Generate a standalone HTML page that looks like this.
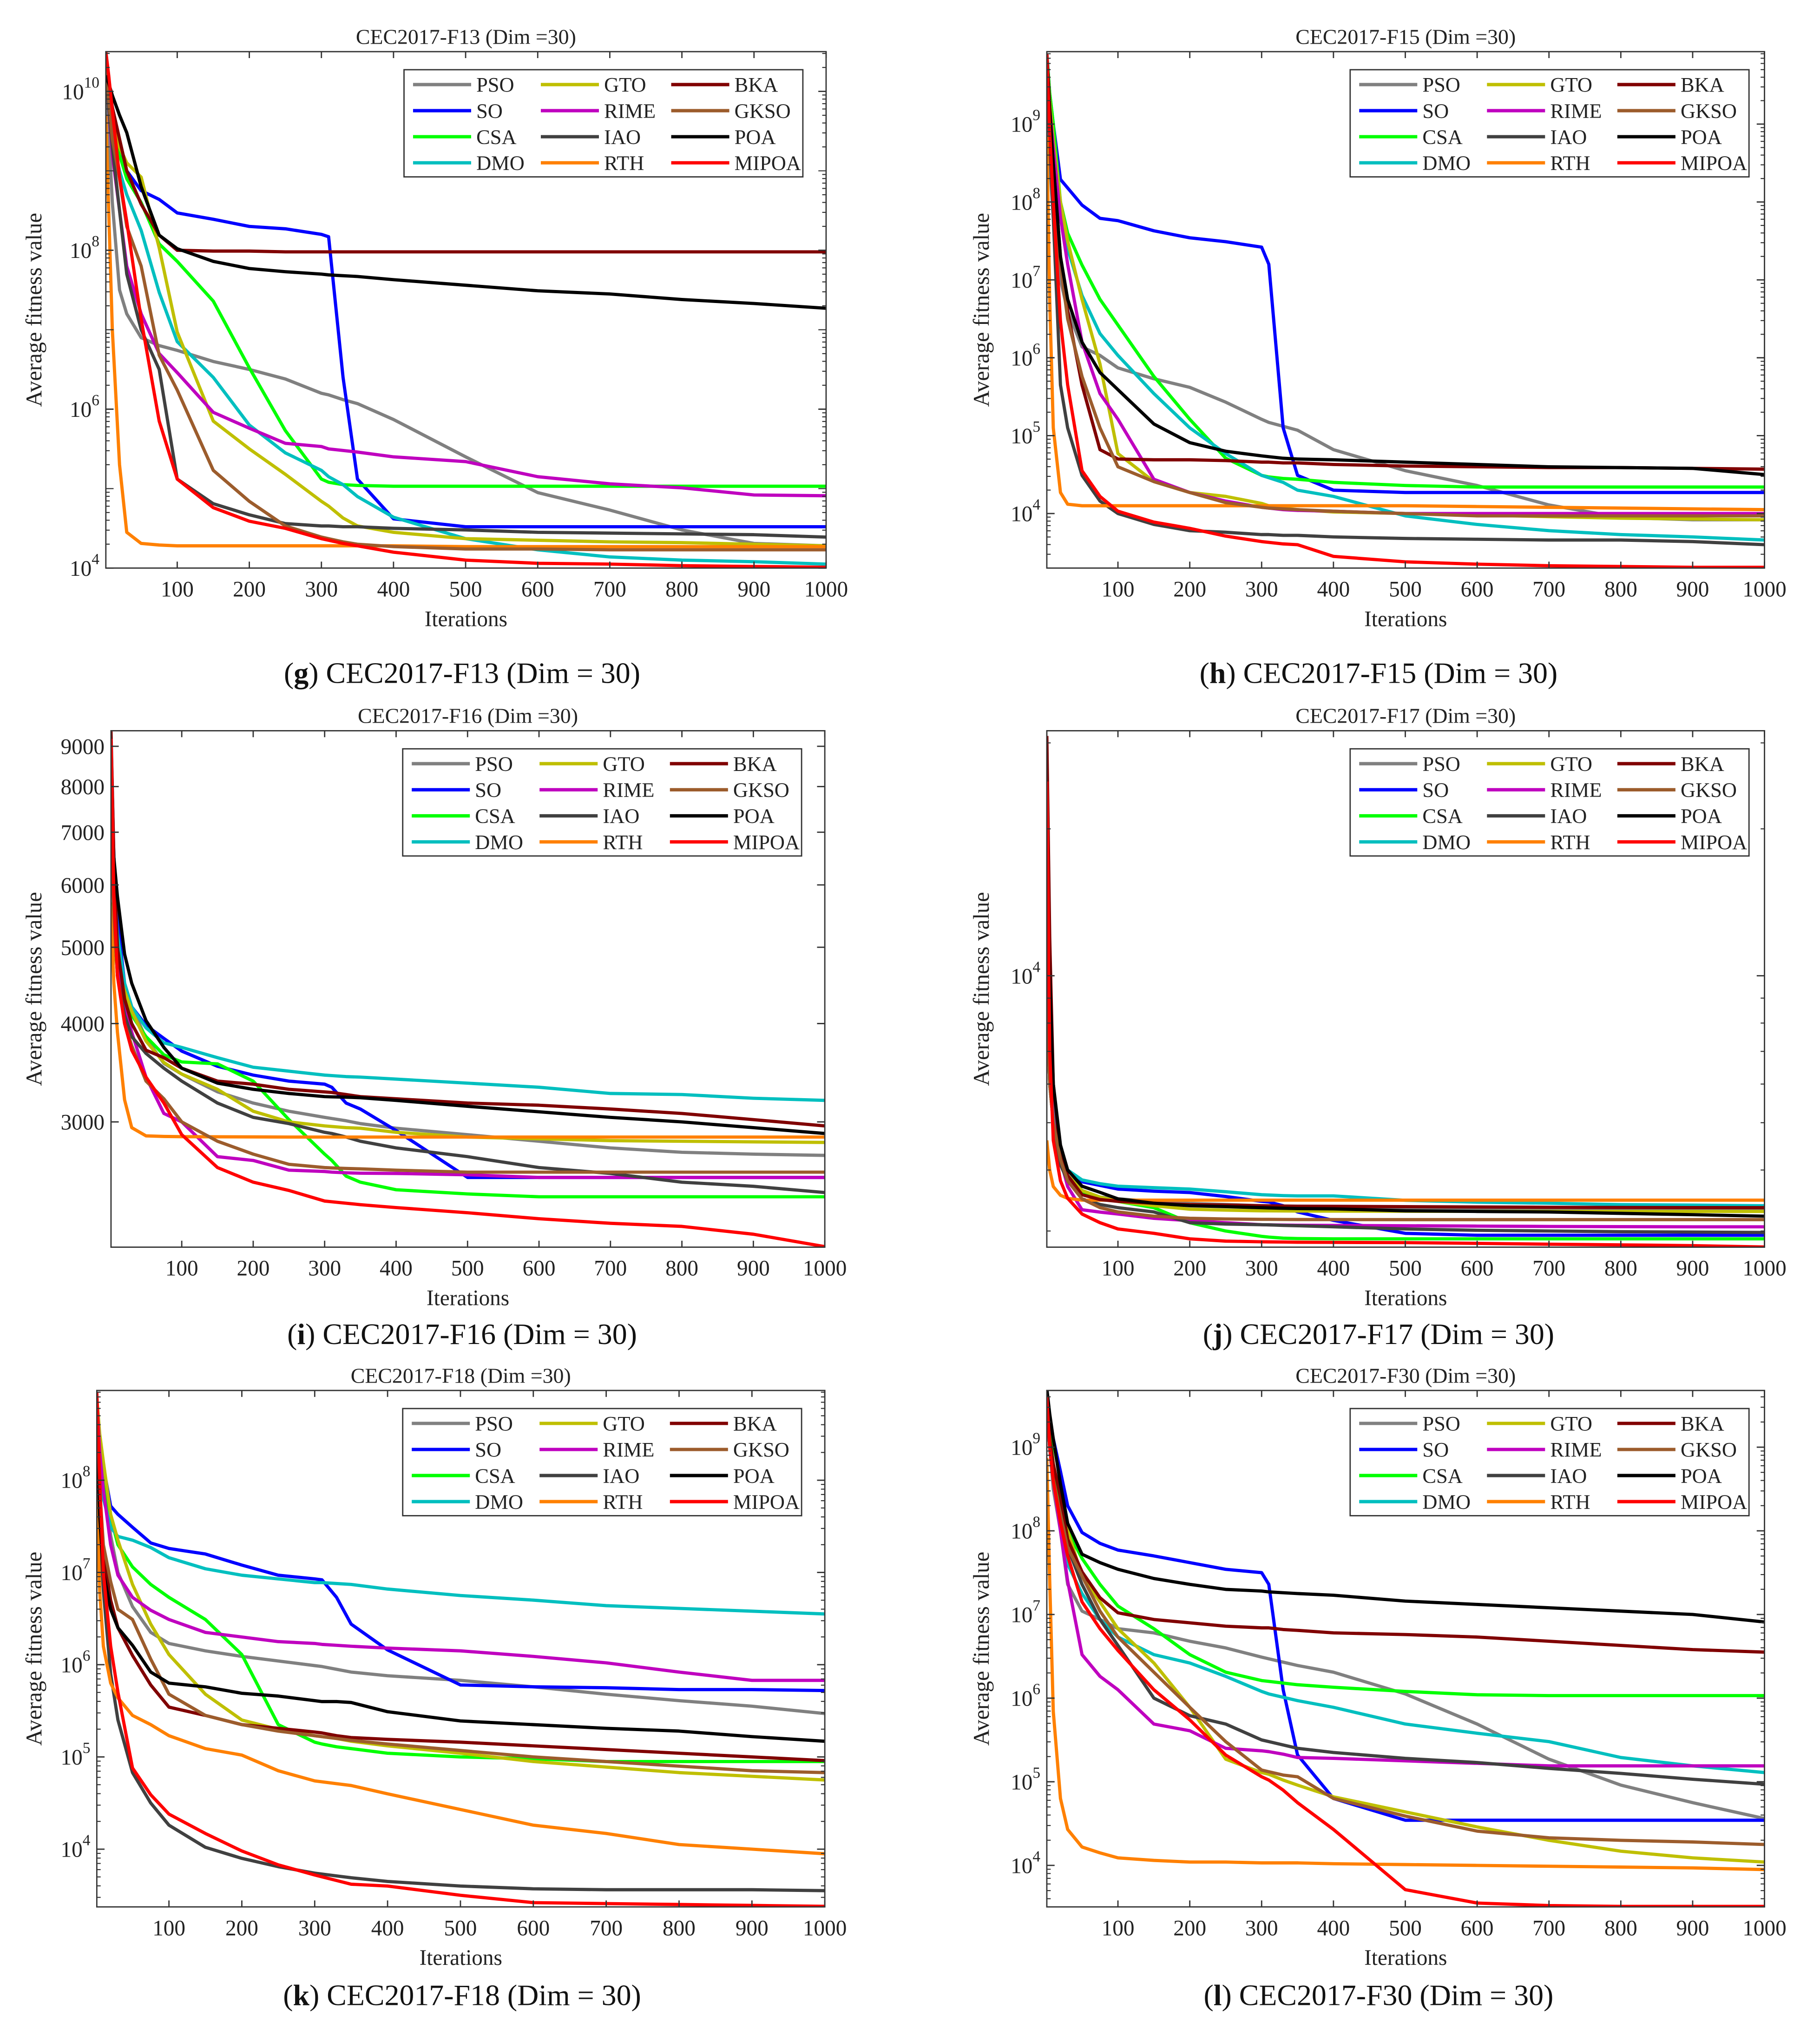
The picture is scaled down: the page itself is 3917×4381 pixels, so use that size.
<!DOCTYPE html>
<html><head><meta charset="utf-8"><title>CEC2017 convergence curves</title>
<style>
html,body{margin:0;padding:0;background:#fff;}
svg{display:block;font-family:"Liberation Serif","DejaVu Serif",serif;}
</style></head>
<body>
<svg id="fig" width="3917" height="4381" viewBox="0 0 1410 1577" preserveAspectRatio="none" xmlns="http://www.w3.org/2000/svg">
<rect x="0" y="0" width="1410" height="1577" fill="#fff"/>
</svg>
<script>
// Iteration grid shared by every series
const ITER = [1,5,10,20,30,50,75,100,150,200,250,300,310,330,350,400,500,600,700,800,900,1000];
const ALGOS = ['PSO','SO','CSA','DMO','GTO','RIME','IAO','RTH','BKA','GKSO','POA','MIPOA'];
const X_TICKS = [100,200,300,400,500,600,700,800,900,1000];

// Panel g (F13) – log10 of average fitness
const g_PSO=[10.3,9.5,8.6,7.5,7.2,6.9,6.8,6.74,6.6,6.5,6.38,6.2,6.18,6.12,6.07,5.87,5.4,4.95,4.73,4.48,4.31,4.28];
const g_SO=[10.5,10.0,9.6,9.2,9.0,8.75,8.64,8.47,8.39,8.3,8.27,8.2,8.17,6.4,5.12,4.62,4.52,4.52,4.52,4.52,4.52,4.52];
const g_CSA=[10.4,10.0,9.5,9.2,8.9,8.6,8.08,7.86,7.36,6.52,5.73,5.12,5.08,5.05,5.04,5.03,5.03,5.03,5.03,5.03,5.03,5.03];
const g_DMO=[10.4,9.9,9.4,9.0,8.7,8.25,7.47,6.85,6.4,5.8,5.45,5.23,5.15,5.05,4.9,4.64,4.37,4.23,4.14,4.1,4.08,4.05];
const g_GTO=[10.3,10.0,9.6,9.3,9.1,8.92,8.03,6.97,5.85,5.5,5.18,4.84,4.78,4.63,4.53,4.45,4.37,4.35,4.33,4.32,4.3,4.28];
const g_RIME=[10.4,9.8,9.2,8.5,7.8,7.2,6.7,6.46,5.96,5.76,5.57,5.53,5.5,5.48,5.46,5.4,5.34,5.15,5.06,5.01,4.92,4.91];
const g_IAO=[10.4,9.8,9.3,8.5,7.7,7.0,6.5,5.12,4.81,4.67,4.56,4.53,4.53,4.52,4.52,4.5,4.48,4.45,4.44,4.43,4.42,4.39];
const g_RTH=[9.7,8.5,7.0,5.3,4.45,4.31,4.29,4.28,4.28,4.28,4.28,4.28,4.28,4.28,4.28,4.28,4.27,4.27,4.27,4.27,4.27,4.27];
const g_BKA=[10.4,10.1,9.8,9.4,9.0,8.58,8.19,8.0,7.99,7.99,7.98,7.98,7.98,7.98,7.98,7.98,7.98,7.98,7.98,7.98,7.98,7.98];
const g_GKSO=[10.4,9.9,9.4,8.9,8.3,7.8,6.68,6.24,5.23,4.84,4.53,4.39,4.37,4.33,4.3,4.27,4.24,4.24,4.23,4.23,4.23,4.23];
const g_POA=[10.2,10.1,9.95,9.7,9.48,8.8,8.19,8.02,7.86,7.77,7.73,7.7,7.69,7.68,7.67,7.63,7.56,7.49,7.45,7.38,7.33,7.27];
const g_MIPOA=[10.5,10.2,9.76,8.92,8.36,7.13,5.85,5.12,4.76,4.59,4.5,4.37,4.35,4.31,4.28,4.2,4.1,4.06,4.05,4.03,4.02,4.01];

// Panel h (F15) – log10
const h_PSO=[9.3,8.5,7.8,7.0,6.6,6.14,6.03,5.87,5.73,5.62,5.43,5.21,5.17,5.12,5.07,4.82,4.55,4.36,4.11,3.95,3.92,3.92];
const h_SO=[9.9,9.4,9.0,8.29,8.18,7.96,7.79,7.76,7.63,7.54,7.49,7.42,7.2,5.1,4.49,4.3,4.27,4.27,4.27,4.27,4.27,4.27];
const h_CSA=[9.9,9.4,9.0,8.0,7.6,7.19,6.75,6.42,5.76,5.21,4.71,4.49,4.47,4.45,4.44,4.4,4.36,4.34,4.34,4.34,4.34,4.34];
const h_DMO=[9.9,9.3,8.8,8.0,7.4,6.8,6.31,6.03,5.54,5.1,4.77,4.49,4.46,4.4,4.3,4.22,3.97,3.86,3.78,3.73,3.7,3.66];
const h_GTO=[9.9,9.3,8.8,8.0,7.5,6.75,5.92,4.77,4.41,4.27,4.22,4.13,4.1,4.07,4.05,4.02,4.0,3.98,3.96,3.94,3.93,3.92];
const h_RIME=[9.9,9.2,8.7,7.8,7.2,6.2,5.54,5.21,4.44,4.27,4.16,4.08,4.07,4.05,4.04,4.03,4.0,4.0,4.0,4.0,4.0,4.0];
const h_IAO=[9.9,8.8,7.8,5.65,5.1,4.49,4.16,4.0,3.86,3.78,3.76,3.73,3.73,3.72,3.72,3.7,3.68,3.67,3.66,3.66,3.64,3.6];
const h_RTH=[8.84,6.75,5.1,4.27,4.12,4.1,4.1,4.1,4.1,4.1,4.1,4.1,4.1,4.1,4.1,4.1,4.1,4.09,4.08,4.07,4.06,4.05];
const h_BKA=[9.9,9.2,8.5,7.3,6.6,5.65,4.82,4.7,4.69,4.69,4.68,4.66,4.66,4.65,4.65,4.63,4.61,4.6,4.59,4.59,4.58,4.57];
const h_GKSO=[9.9,9.0,8.5,7.2,6.5,5.76,5.1,4.6,4.41,4.27,4.14,4.08,4.07,4.06,4.05,4.03,4.0,3.97,3.97,3.97,3.97,3.97];
const h_POA=[9.9,9.2,8.5,7.3,6.75,6.2,5.81,5.59,5.15,4.91,4.8,4.74,4.73,4.71,4.7,4.69,4.66,4.63,4.6,4.59,4.58,4.5];
const h_MIPOA=[9.9,8.9,8.0,6.47,5.65,4.55,4.22,4.03,3.89,3.81,3.71,3.64,3.63,3.61,3.6,3.45,3.38,3.35,3.33,3.32,3.31,3.31];

// Panel i (F16) – average fitness values
const i_PSO=[8000,6000,5000,4500,4200,3830,3560,3450,3276,3170,3095,3040,3030,3010,2985,2945,2890,2835,2780,2745,2730,2720];
const i_SO=[9300,6500,5400,4500,4200,3980,3830,3690,3530,3440,3380,3350,3320,3170,3115,2925,2550,2550,2550,2550,2550,2550];
const i_CSA=[8500,6000,5000,4400,4100,3850,3650,3575,3555,3380,3020,2730,2680,2560,2515,2460,2430,2410,2410,2410,2410,2410];
const i_DMO=[8500,6200,5200,4500,4200,3950,3780,3730,3620,3520,3480,3440,3435,3425,3420,3400,3360,3320,3260,3250,3215,3195];
const i_GTO=[5700,5000,4700,4400,4150,3800,3570,3450,3300,3095,3000,2965,2960,2950,2945,2910,2870,2855,2840,2835,2830,2825];
const i_RIME=[9000,6000,4800,4200,3900,3420,3075,3000,2710,2680,2605,2595,2590,2585,2582,2580,2570,2550,2550,2550,2550,2550];
const i_IAO=[7000,5500,4600,4100,3850,3665,3510,3380,3170,3040,2985,2910,2900,2870,2835,2780,2710,2625,2580,2515,2485,2440];
const i_RTH=[5600,4500,3900,3200,2950,2880,2875,2873,2872,2871,2870,2870,2870,2870,2870,2870,2870,2870,2870,2870,2870,2870];
const i_BKA=[9400,6500,5000,4300,4000,3700,3620,3510,3380,3350,3300,3275,3270,3250,3230,3210,3170,3150,3115,3075,3020,2965];
const i_GKSO=[7000,5500,4600,4000,3750,3380,3210,3000,2835,2730,2650,2625,2622,2618,2615,2605,2590,2590,2590,2590,2590,2590];
const i_POA=[7400,6500,5800,4900,4500,4035,3730,3510,3360,3300,3260,3230,3228,3225,3220,3195,3140,3090,3040,3000,2950,2900];
const i_MIPOA=[9200,5800,4600,4000,3700,3420,3170,2890,2625,2515,2455,2380,2375,2365,2355,2335,2300,2260,2230,2210,2160,2083];

// Panel j (F17) – average fitness values
const j_PSO=[9000,6000,5000,4200,3900,3632,3520,3491,3450,3417,3400,3380,3378,3370,3365,3350,3330,3320,3315,3310,3305,3300];
const j_SO=[10000,6500,5200,4300,4000,3784,3720,3656,3620,3597,3530,3450,3440,3380,3282,3154,2967,2940,2940,2940,2940,2940];
const j_CSA=[10000,6500,5200,4300,3900,3597,3520,3450,3349,3120,3000,2925,2915,2900,2895,2891,2891,2891,2891,2891,2891,2891];
const j_DMO=[9500,6500,5200,4400,4000,3818,3750,3706,3680,3656,3610,3560,3555,3545,3540,3540,3467,3437,3420,3397,3390,3380];
const j_GTO=[9000,6000,5000,4200,3900,3632,3520,3450,3380,3325,3310,3300,3300,3298,3296,3295,3293,3292,3291,3290,3290,3290];
const j_RIME=[13900,8000,6000,4200,3700,3316,3280,3250,3185,3150,3120,3090,3088,3085,3082,3080,3075,3070,3065,3062,3060,3060];
const j_IAO=[9000,6000,5000,4100,3800,3491,3400,3349,3282,3120,3100,3090,3088,3080,3075,3060,3029,3010,3000,2990,2985,2979];
const j_RTH=[4600,4000,3700,3550,3500,3470,3470,3470,3470,3470,3470,3470,3470,3470,3470,3470,3470,3470,3470,3470,3470,3470];
const j_BKA=[31000,12000,6000,4300,3900,3560,3480,3450,3420,3397,3390,3380,3378,3375,3372,3370,3365,3360,3355,3352,3350,3349];
const j_GKSO=[9000,6000,5000,4200,3800,3491,3350,3282,3217,3185,3175,3170,3170,3168,3167,3166,3165,3165,3165,3165,3165,3165];
const j_POA=[15000,10000,6000,4500,4000,3706,3600,3491,3420,3380,3365,3349,3345,3340,3335,3330,3300,3290,3282,3260,3240,3217];
const j_MIPOA=[25000,7000,4600,3800,3500,3250,3120,3029,2967,2891,2860,2851,2850,2848,2845,2843,2840,2830,2819,2810,2800,2782];

// Panel k (F18) – log10
const k_PSO=[8.9,8.3,8.0,7.4,7.0,6.63,6.35,6.23,6.15,6.09,6.04,5.99,5.98,5.95,5.92,5.88,5.83,5.76,5.68,5.61,5.55,5.47];
const k_SO=[8.9,8.4,8.15,7.72,7.63,7.49,7.32,7.26,7.2,7.08,6.97,6.93,6.92,6.73,6.44,6.16,5.78,5.76,5.75,5.73,5.73,5.72];
const k_CSA=[8.9,8.4,8.0,7.6,7.3,7.06,6.87,6.73,6.49,6.11,5.35,5.16,5.14,5.11,5.09,5.04,5.0,4.98,4.95,4.95,4.95,4.95];
const k_DMO=[8.9,8.2,7.8,7.49,7.39,7.35,7.27,7.16,7.04,6.97,6.93,6.89,6.89,6.88,6.87,6.82,6.75,6.7,6.64,6.61,6.58,6.55];
const k_GTO=[8.9,8.5,8.2,7.63,7.35,6.87,6.44,6.11,5.68,5.4,5.3,5.23,5.22,5.2,5.17,5.12,5.04,4.95,4.89,4.83,4.79,4.75];
const k_RIME=[8.9,8.3,7.9,7.3,6.97,6.73,6.59,6.49,6.35,6.3,6.25,6.23,6.22,6.21,6.2,6.18,6.15,6.09,6.02,5.92,5.83,5.83];
const k_IAO=[8.9,7.5,6.8,5.9,5.4,4.83,4.5,4.26,4.02,3.9,3.81,3.74,3.73,3.71,3.69,3.65,3.6,3.57,3.56,3.56,3.56,3.55];
const k_RTH=[7.8,6.8,6.2,5.8,5.64,5.45,5.35,5.23,5.09,5.02,4.85,4.74,4.73,4.71,4.69,4.6,4.43,4.26,4.17,4.05,4.0,3.95];
const k_BKA=[8.9,7.8,7.2,6.7,6.4,6.1,5.78,5.54,5.45,5.35,5.31,5.27,5.26,5.23,5.21,5.19,5.16,5.12,5.08,5.04,5.0,4.96];
const k_GKSO=[8.9,7.9,7.3,6.9,6.6,6.49,6.06,5.68,5.45,5.35,5.28,5.23,5.22,5.2,5.18,5.14,5.07,5.0,4.95,4.9,4.85,4.83];
const k_POA=[8.9,7.6,7.0,6.6,6.4,6.21,5.92,5.8,5.76,5.69,5.66,5.61,5.6,5.6,5.59,5.49,5.39,5.35,5.31,5.28,5.22,5.17];
const k_MIPOA=[8.95,8.0,7.0,6.2,5.7,4.88,4.59,4.38,4.17,3.98,3.83,3.72,3.7,3.66,3.62,3.6,3.5,3.42,3.41,3.4,3.39,3.38];

// Panel l (F30) – log10
const l_PSO=[9.5,9.0,8.5,8.0,7.36,7.04,6.94,6.83,6.78,6.68,6.6,6.49,6.47,6.43,6.39,6.31,6.05,5.69,5.27,4.96,4.75,4.56];
const l_SO=[9.5,9.3,9.1,8.71,8.3,7.98,7.85,7.77,7.7,7.62,7.54,7.5,7.36,6.1,5.32,4.8,4.54,4.54,4.54,4.54,4.54,4.54];
const l_CSA=[9.7,9.2,8.8,8.3,8.0,7.67,7.36,7.1,6.83,6.52,6.31,6.21,6.2,6.18,6.16,6.13,6.08,6.04,6.03,6.03,6.03,6.03];
const l_DMO=[9.6,9.0,8.6,8.2,7.6,7.25,6.94,6.73,6.52,6.42,6.26,6.08,6.05,6.01,5.97,5.89,5.69,5.58,5.48,5.29,5.19,5.11];
const l_GTO=[9.6,9.1,8.8,8.4,8.0,7.46,7.15,6.83,6.42,5.89,5.27,5.11,5.09,5.02,4.96,4.82,4.64,4.46,4.3,4.17,4.09,4.04];
const l_RIME=[9.5,9.0,8.6,8.0,7.4,6.52,6.26,6.1,5.69,5.61,5.4,5.37,5.36,5.33,5.29,5.28,5.25,5.22,5.19,5.19,5.19,5.19];
const l_IAO=[9.5,9.0,8.6,8.2,7.8,7.36,6.94,6.63,6.0,5.79,5.69,5.5,5.48,5.44,5.4,5.35,5.28,5.23,5.16,5.1,5.03,4.97];
const l_RTH=[8.87,7.41,5.84,4.8,4.43,4.22,4.15,4.09,4.06,4.04,4.04,4.03,4.03,4.03,4.03,4.02,4.01,4.0,3.99,3.98,3.97,3.95];
const l_BKA=[9.6,9.1,8.8,8.4,7.9,7.51,7.2,7.02,6.94,6.9,6.86,6.84,6.84,6.82,6.81,6.78,6.76,6.73,6.68,6.63,6.58,6.55];
const l_GKSO=[9.6,9.0,8.6,8.2,7.8,7.46,7.04,6.73,6.31,5.89,5.48,5.14,5.12,5.08,5.06,4.8,4.59,4.41,4.33,4.3,4.28,4.25];
const l_POA=[9.7,9.4,9.1,8.56,8.09,7.72,7.62,7.54,7.43,7.36,7.3,7.28,7.27,7.26,7.25,7.23,7.16,7.12,7.08,7.04,7.0,6.91];
const l_MIPOA=[9.6,9.0,8.6,8.1,7.7,7.15,6.83,6.57,6.1,5.74,5.32,5.06,5.02,4.9,4.75,4.43,3.71,3.55,3.52,3.51,3.51,3.51];

// Y tick values per panel
const g_YTICKS=[4,6,8,10];
const h_YTICKS=[4,5,6,7,8,9];
const i_YTICKS=[3000,4000,5000,6000,7000,8000,9000];
const j_YTICKS=[4];
const k_YTICKS=[4,5,6,7,8];
const l_YTICKS=[4,5,6,7,8,9];

const COLORS={PSO:'#808080',SO:'#0000ff',CSA:'#00ff00',DMO:'#00bfbf',GTO:'#bfbf00',RIME:'#bf00bf',IAO:'#404040',RTH:'#ff8000',BKA:'#800000',GKSO:'#9c5c2c',POA:'#000000',MIPOA:'#ff0000'};

const PANELS=[
 {id:'g',fn:'F13',x0:82,x1:640,y0:40,y1:440,lo:4.0,hi:10.5,isLog:true,ticks:g_YTICKS,legR:18,capY:529,ylx:28,
  series:[g_PSO,g_SO,g_CSA,g_DMO,g_GTO,g_RIME,g_IAO,g_RTH,g_BKA,g_GKSO,g_POA,g_MIPOA]},
 {id:'h',fn:'F15',x0:811,x1:1367,y0:40,y1:440,lo:3.30,hi:9.93,isLog:true,ticks:h_YTICKS,legR:12,capY:529,ylx:762,
  series:[h_PSO,h_SO,h_CSA,h_DMO,h_GTO,h_RIME,h_IAO,h_RTH,h_BKA,h_GKSO,h_POA,h_MIPOA]},
 {id:'i',fn:'F16',x0:86,x1:639,y0:566,y1:966,lo:3.318,hi:3.974,isLog:false,ticks:i_YTICKS,legR:18,capY:1041,ylx:28,
  series:[i_PSO,i_SO,i_CSA,i_DMO,i_GTO,i_RIME,i_IAO,i_RTH,i_BKA,i_GKSO,i_POA,i_MIPOA]},
 {id:'j',fn:'F17',x0:811,x1:1367,y0:566,y1:966,lo:3.444,hi:4.502,isLog:false,ticks:j_YTICKS,legR:12,capY:1041,ylx:762,
  series:[j_PSO,j_SO,j_CSA,j_DMO,j_GTO,j_RIME,j_IAO,j_RTH,j_BKA,j_GKSO,j_POA,j_MIPOA]},
 {id:'k',fn:'F18',x0:75,x1:639,y0:1077,y1:1477,lo:3.374,hi:8.973,isLog:true,ticks:k_YTICKS,legR:18,capY:1553,ylx:28,
  series:[k_PSO,k_SO,k_CSA,k_DMO,k_GTO,k_RIME,k_IAO,k_RTH,k_BKA,k_GKSO,k_POA,k_MIPOA]},
 {id:'l',fn:'F30',x0:811,x1:1367,y0:1077,y1:1477,lo:3.504,hi:9.678,isLog:true,ticks:l_YTICKS,legR:12,capY:1553,ylx:762,
  series:[l_PSO,l_SO,l_CSA,l_DMO,l_GTO,l_RIME,l_IAO,l_RTH,l_BKA,l_GKSO,l_POA,l_MIPOA]}
];

const NS='http://www.w3.org/2000/svg';
const svg=document.getElementById('fig');
function mk(tag,attrs,parent){const e=document.createElementNS(NS,tag);for(const k in attrs)e.setAttribute(k,attrs[k]);(parent||svg).appendChild(e);return e;}

PANELS.forEach(p=>{
  const g=mk('g',{});
  
  
  const W=p.x1-p.x0,H=p.y1-p.y0;
  const xs=it=>p.x0+(it-1)/999*W;
  const ex=v=>p.isLog? v : Math.log10(v);
  const ys=e=>p.y1-(e-p.lo)/(p.hi-p.lo)*H;

  const cp=mk('clipPath',{id:'clip'+p.id},g);
  mk('rect',{x:p.x0,y:p.y0,width:W,height:H},cp);

  const t=mk('text',{x:(p.x0+p.x1)/2,y:p.y0-6,'font-size':16.5,'text-anchor':'middle',fill:'#222'},g);
  t.textContent='CEC2017-'+p.fn+' (Dim =30)';
  
  

  const sg=mk('g',{'clip-path':'url(#clip'+p.id+')'},g);
  p.series.forEach((arr,si)=>{
    let d='';
    ITER.forEach((it,k)=>{d+=(k?'L':'M')+xs(it).toFixed(2)+','+ys(ex(arr[k])).toFixed(2);});
    const pl=mk('path',{d:d,fill:'none',stroke:COLORS[ALGOS[si]],'stroke-width':2.5,'stroke-linejoin':'round'},sg);
    
    
  });

  const box=mk('rect',{x:p.x0,y:p.y0,width:W,height:H,fill:'none',stroke:'#333','stroke-width':1},g);
  
  

  X_TICKS.forEach(v=>{
    const x=xs(v);
    mk('line',{x1:x,y1:p.y1,x2:x,y2:p.y1-5,stroke:'#333','stroke-width':1},g);
    mk('line',{x1:x,y1:p.y0,x2:x,y2:p.y0+5,stroke:'#333','stroke-width':1},g);
    const tl=mk('text',{x:x,y:p.y1+22,'font-size':17,'text-anchor':'middle',fill:'#222'},g);
    tl.textContent=v;
    
    
  });
  const xl=mk('text',{x:(p.x0+p.x1)/2,y:p.y1+45,'font-size':17,'text-anchor':'middle',fill:'#222'},g);
  xl.textContent='Iterations';
  
  

  for(let d=Math.floor(p.lo);d<=Math.ceil(p.hi);d++){
    for(let m=1;m<=9;m++){
      const e=d+Math.log10(m);
      if(e<p.lo||e>p.hi)continue;
      const y=ys(e);const len=(m===1)?6:3;
      mk('line',{x1:p.x0,y1:y,x2:p.x0+len,y2:y,stroke:'#333','stroke-width':0.8},g);
      mk('line',{x1:p.x1,y1:y,x2:p.x1-len,y2:y,stroke:'#333','stroke-width':0.8},g);
    }
  }
  p.ticks.forEach(v=>{
    const e=p.isLog? v : (p.id==='j'? v : Math.log10(v));
    const y=ys(e);
    mk('line',{x1:p.x0,y1:y,x2:p.x0+6,y2:y,stroke:'#333','stroke-width':1},g);
    mk('line',{x1:p.x1,y1:y,x2:p.x1-6,y2:y,stroke:'#333','stroke-width':1},g);
    const tl=mk('text',{x:p.x0-5,y:y+6,'font-size':17,'text-anchor':'end',fill:'#222'},g);
    if(p.id==='i'){tl.textContent=v;}
    else{
      const a=mk('tspan',{},tl);a.textContent='10';
      const b=mk('tspan',{dy:-9,'font-size':12},tl);b.textContent=String(v);
    }
    
    
  });
  const ylY=(p.y0+p.y1)/2;
  const yl=mk('text',{x:p.ylx,y:ylY,'font-size':17.5,'text-anchor':'middle',fill:'#222',transform:'rotate(-90 '+p.ylx+' '+ylY+')','dominant-baseline':'middle'},g);
  yl.textContent='Average fitness value';
  
  

  const lg=mk('g',{},g);
  
  
  const bx=p.x1-p.legR-309, by=p.y0+14;
  mk('rect',{x:bx,y:by,width:309,height:83,fill:'#fff',stroke:'#333','stroke-width':1},lg);
  const colOff=[[7,52,56],[106,151,155],[207,252,256]];
  ALGOS.forEach((a,ai)=>{
    const c=Math.floor(ai/4),r=ai%4;
    const cy=by+11.5+r*20.2;
    const en=mk('g',{},lg);
    
    
    mk('line',{x1:bx+colOff[c][0],y1:cy,x2:bx+colOff[c][1],y2:cy,stroke:COLORS[a],'stroke-width':2.6},en);
    const tx=mk('text',{x:bx+colOff[c][2],y:cy+5.5,'font-size':16,fill:'#222'},en);
    tx.textContent=a;
  });

  const cap=mk('text',{x:(p.id==='g'||p.id==='i'||p.id==='k')?358:1068,y:p.capY,'font-size':23,'text-anchor':'middle',fill:'#111'},g);
  const c1=mk('tspan',{},cap);c1.textContent='(';
  const c2=mk('tspan',{'font-weight':'bold'},cap);c2.textContent=p.id;
  const c3=mk('tspan',{},cap);c3.textContent=') CEC2017-'+p.fn+' (Dim = 30)';
  
  
});
</script>
</body></html>
